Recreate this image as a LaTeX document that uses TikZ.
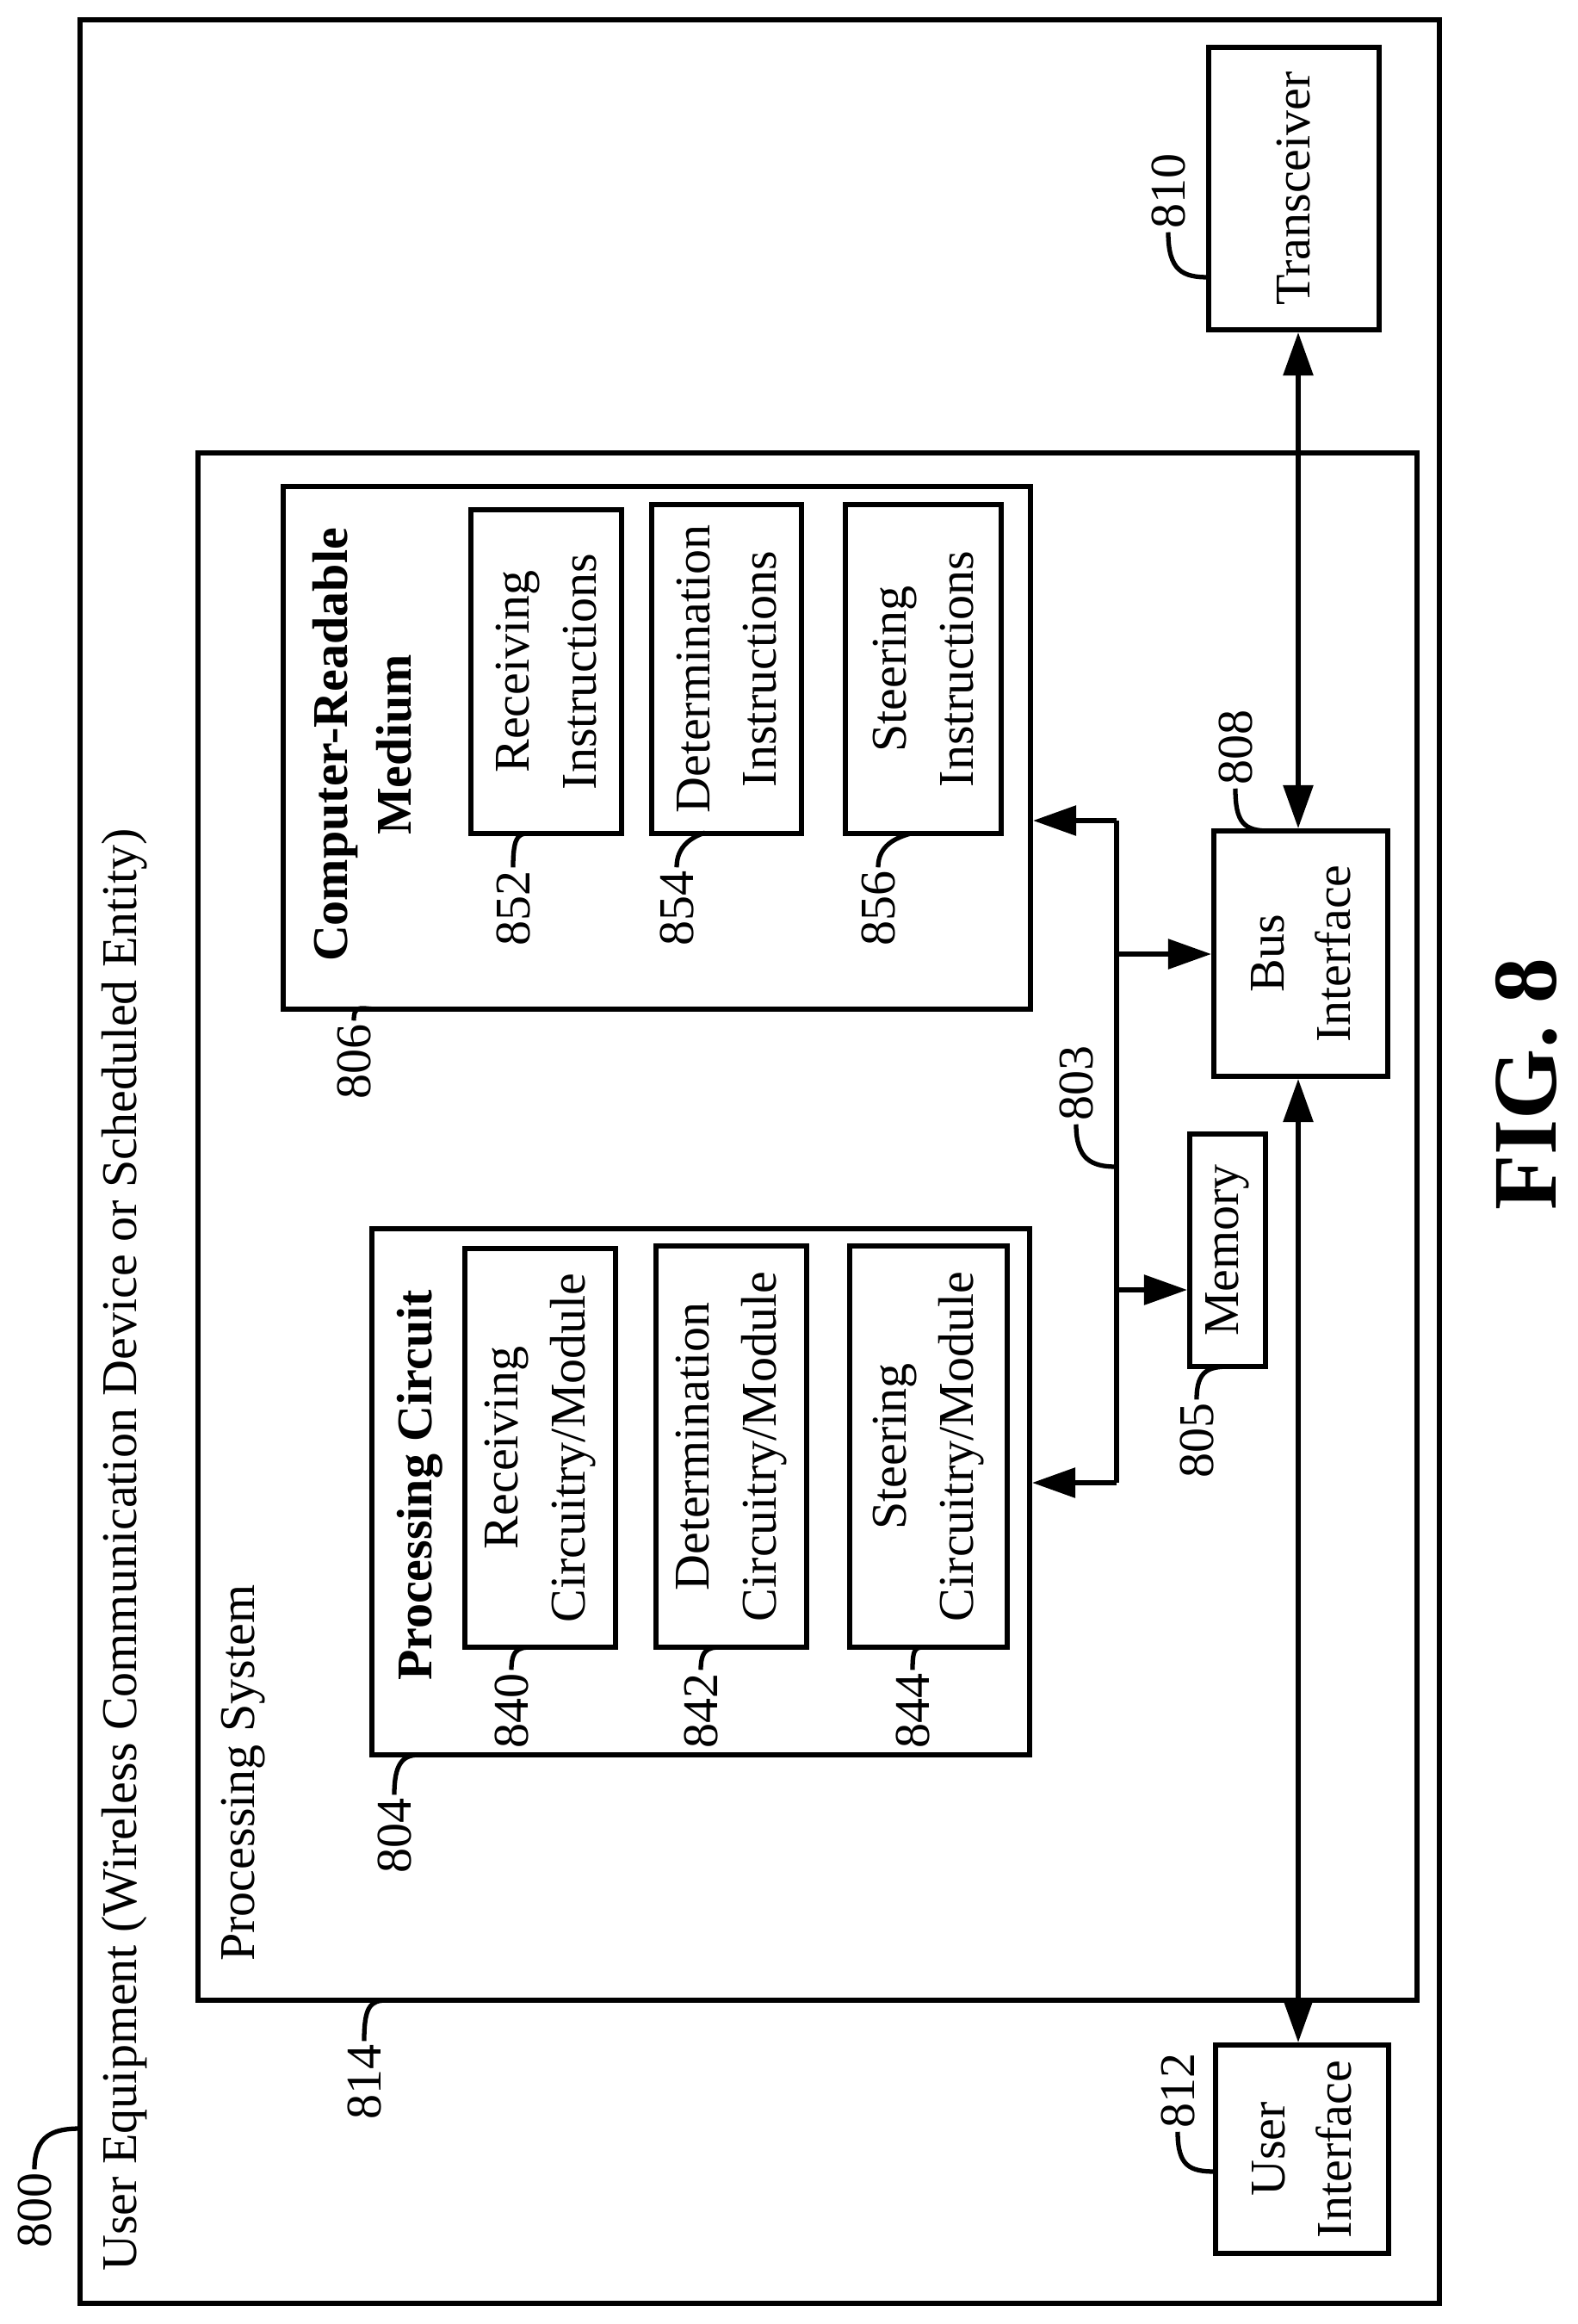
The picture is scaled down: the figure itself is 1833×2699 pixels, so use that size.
\documentclass[tikz,border=0pt]{standalone}
\usepackage{fontspec}
\setmainfont{Liberation Serif}
\usetikzlibrary{arrows.meta,positioning,fit}
\begin{document}
\begin{tikzpicture}[
  x=0.01cm, y=-0.01cm,
  box/.style={draw, line width=1.7pt, inner sep=0pt},
  txt/.style={rotate=90, align=center, font=\fontsize{16.5}{22}\selectfont},
  ttl/.style={txt, font=\fontsize{16.5}{21}\selectfont\bfseries},
  num/.style={rotate=90, font=\fontsize{16.5}{20}\selectfont, inner sep=1pt},
  lead/.style={line width=1.5pt},
  bus/.style={line width=1.6pt, -{Triangle[length=0.5cm, width=0.34cm]}},
  dbus/.style={line width=1.6pt, {Triangle[length=0.5cm, width=0.34cm]}-{Triangle[length=0.5cm, width=0.34cm]}},
]
  \useasboundingbox (0,0) rectangle (1833,2699);

  % Outer boxes
  \node[box, fit={(93,23) (1672,2675)}] (ue) {};
  \node[txt, anchor=west] at (145,2650) {User Equipment (Wireless Communication Device or Scheduled Entity)};
  \node[box, fit={(230,526) (1646,2323)}] (ps) {};
  \node[txt, anchor=west] at (283,2290) {Processing System};

  % Peripherals
  \node[box, fit={(1404,55) (1602,383)}] (trx) {};
  \node[txt] at (trx.center) {Transceiver};
  \node[box, fit={(1412,2375) (1613,2617)}] (ui) {};
  \node[txt] at (ui.center) {User\\Interface};
  \node[box, fit={(1410,965) (1612,1250)}] (bi) {};
  \node[txt] at (bi.center) {Bus\\Interface};
  \node[box, fit={(1382,1317) (1470,1587)}] (mem) {};
  \node[txt] at (mem.center) {Memory};

  % Computer-readable medium
  \node[box, fit={(329,565) (1197,1172)}] (crm) {};
  \node[ttl] at (421,865) {Computer-Readable\\Medium};
  \node[box, fit={(547,592) (722,968)}] (rxi) {};
  \node[txt] at (rxi.center) {Receiving\\Instructions};
  \node[box, fit={(757,586) (931,968)}] (dti) {};
  \node[txt] at (dti.center) {Determination\\Instructions};
  \node[box, fit={(982,586) (1163,968)}] (sti) {};
  \node[txt] at (sti.center) {Steering\\Instructions};

  % Processing circuit
  \node[box, fit={(432,1427) (1196,2038)}] (pc) {};
  \node[ttl] at (488,1725) {Processing Circuit};
  \node[box, fit={(540,1450) (715,1913)}] (rxc) {};
  \node[txt] at (rxc.center) {Receiving\\Circuitry/Module};
  \node[box, fit={(762,1447) (937,1913)}] (dtc) {};
  \node[txt] at (dtc.center) {Determination\\Circuitry/Module};
  \node[box, fit={(987,1447) (1170,1913)}] (stc) {};
  \node[txt] at (stc.center) {Steering\\Circuitry/Module};

  % Bus
  \coordinate (bt) at (1297,953);
  \coordinate (bb) at (1297,1722);
  \draw[line width=1.6pt] (bt) -- (bb);
  \draw[bus] (bt) -- (bt -| crm.east);
  \draw[bus] (bb) -- (bb -| pc.east);
  \draw[bus] (1297,1108) -- (1297,1108 -| bi.west);
  \draw[bus] (1297,1498) -- (1297,1498 -| mem.west);
  \draw[dbus] (trx.south -| 1508,0) -- (bi.north -| 1508,0);
  \draw[dbus] (bi.south -| 1508,0) -- (ui.north -| 1508,0);

  % Reference numerals
  \node[num] (n800) at (40,2567) {800};
  \draw[lead] (n800.east) .. controls +(0,-40) and +(-30,0) .. (93,2472);
  \node[num] (n810) at (1357,222) {810};
  \draw[lead] (n810.west) .. controls +(0,45) and +(-30,0) .. (1404,322);
  \node[num] (n812) at (1368,2428) {812};
  \draw[lead] (n812.west) .. controls +(0,40) and +(-30,0) .. (1412,2522);
  \node[num] (n814) at (423,2418) {814};
  \draw[lead] (n814.east) .. controls +(0,-40) and +(-20,0) .. (450,2323);
  \node[num] (n808) at (1435,868) {808};
  \draw[lead] (n808.west) .. controls +(0,40) and +(-30,0) .. (1475,965);
  \node[num] (n803) at (1250,1258) {803};
  \draw[lead] (n803.west) .. controls +(0,40) and +(-30,0) .. (1297,1355);
  \node[num] (n805) at (1390,1673) {805};
  \draw[lead] (n805.east) .. controls +(0,-35) and +(-25,0) .. (1430,1587);
  \node[num] (n806) at (411,1233) {806};
  \draw[lead] (n806.east) .. controls +(0,-20) and +(-20,0) .. (440,1172);
  \node[num] (n852) at (596,1055) {852};
  \draw[lead] (n852.east) .. controls +(0,-30) and +(-12,0) .. (612,968);
  \node[num] (n854) at (786,1055) {854};
  \draw[lead] (n854.east) .. controls +(0,-25) and +(-15,5) .. (819,967);
  \node[num] (n856) at (1020,1055) {856};
  \draw[lead] (n856.east) .. controls +(0,-25) and +(-18,5) .. (1058,968);
  \node[num] (n840) at (594,1987) {840};
  \draw[lead] (n840.east) .. controls +(0,-28) and +(-20,0) .. (626,1913);
  \node[num] (n842) at (814,1987) {842};
  \draw[lead] (n842.east) .. controls +(0,-28) and +(-20,0) .. (846,1913);
  \node[num] (n844) at (1060,1987) {844};
  \draw[lead] (n844.east) .. controls +(0,-28) and +(-15,0) .. (1079,1913);
  \node[num] (n804) at (458,2132) {804};
  \draw[lead] (n804.east) .. controls +(0,-35) and +(-20,0) .. (487,2038);

  \node[rotate=90, font=\fontsize{30}{34}\selectfont\bfseries] (fig) at (1773,1259) {FIG. 8};
\end{tikzpicture}
\end{document}
